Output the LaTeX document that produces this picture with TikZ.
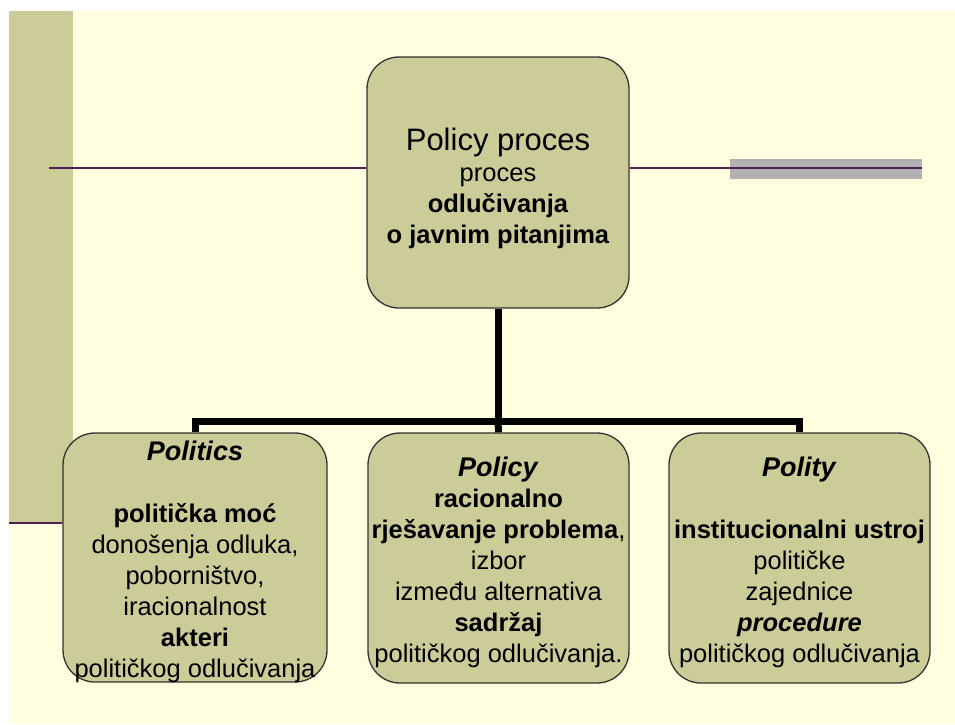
\documentclass[tikz,border=0pt]{standalone}
\usepackage{fontspec}
\setmainfont{Liberation Sans}
\definecolor{creambg}{RGB}{255,255,224}
\definecolor{olivebox}{RGB}{204,204,153}
\definecolor{plumline}{RGB}{80,32,80}
\definecolor{greybar}{RGB}{178,178,178}
\definecolor{boxedge}{RGB}{50,50,50}
\tikzset{
  box/.style={draw=boxedge, line width=1.3pt, fill=olivebox, rounded corners=32pt,
    inner sep=0pt},
  boxtext/.style={inner sep=0pt, align=center, text=black,
    font=\fontsize{25.5}{31}\selectfont},
  conn/.style={line width=7pt, black, line join=miter, line cap=butt},
  thinline/.style={plumline, line width=2.2pt}
}
\begin{document}
\begin{tikzpicture}[x=1pt,y=-1pt]
\useasboundingbox (0,0) rectangle (955,724);
\fill[white] (0,0) rectangle (955,724);
\fill[creambg] (9,11) rectangle (955,724);
\fill[olivebox] (9,11) rectangle (73,523);
\fill[greybar] (730,159) rectangle (922,179);

\coordinate (bus) at (498,421);
\coordinate (l1) at (9,523);
\coordinate (l2) at (49,168);
\coordinate (l3) at (922,168);

\node[box, minimum width=262pt, minimum height=251pt] (top) at (498,182.5) {};
\node[box, minimum width=264pt, minimum height=249pt] (b1) at (195,557.5) {};
\node[box, minimum width=261pt, minimum height=250pt] (b2) at (498.5,558) {};
\node[box, minimum width=261pt, minimum height=250pt] (b3) at (799.5,558) {};

\draw[conn] (top.south) -- (bus);
\draw[conn] (b1.north) -- (b1.north |- bus) -- (b3.north |- bus) -- (b3.north);
\draw[conn] (bus) -- (b2.north);

\draw[thinline] (l1) -- (l1 -| b1.west);
\draw[thinline] (l2) -- (l2 -| top.west);
\draw[thinline] (top.east |- l3) -- (l3);

\node[boxtext, yshift=-6pt] (t0) at (top.center)
  {{\fontsize{31}{36}\selectfont Policy proces}\\ proces\\ \textbf{odlučivanja}\\ \textbf{o javnim pitanjima}};

\node[boxtext, yshift=-4pt] (t1) at (b1.center)
  {{\fontsize{27}{31}\selectfont\textbf{\textit{Politics}}}\\[31pt]
   \textbf{politička moć}\\ donošenja odluka,\\ poborništvo,\\ iracionalnost\\
   \textbf{akteri}\\ političkog odlučivanja};

\node[boxtext, yshift=-4pt] (t2) at (b2.center)
  {{\fontsize{27}{31}\selectfont\textbf{\textit{Policy}}}\\
   \textbf{racionalno}\\ \textbf{rješavanje problema},\\ izbor\\ između alternativa\\
   \textbf{sadržaj}\\ političkog odlučivanja.};

\node[boxtext, yshift=-4pt] (t3) at (b3.center)
  {{\fontsize{27}{31}\selectfont\textbf{\textit{Polity}}}\\[31pt]
   \textbf{institucionalni ustroj}\\ političke\\ zajednice\\
   \textbf{\textit{procedure}}\\ političkog odlučivanja};
\end{tikzpicture}
\end{document}
